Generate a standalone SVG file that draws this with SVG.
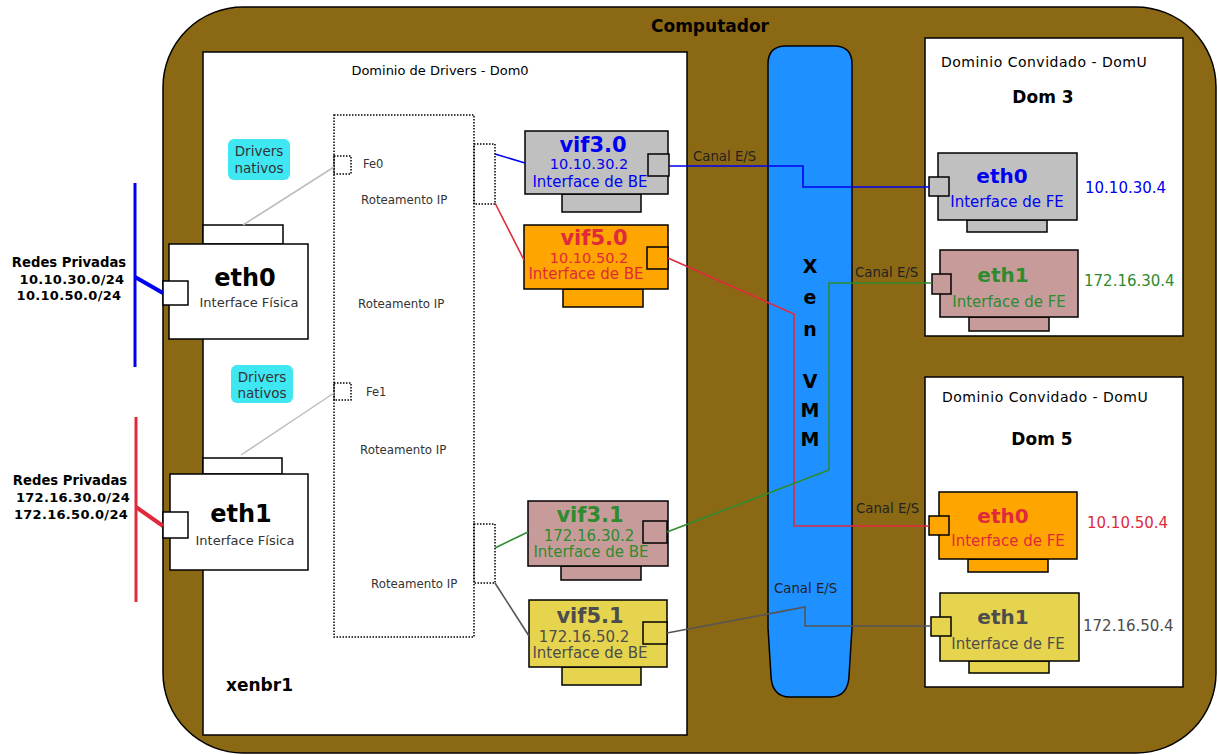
<svg xmlns="http://www.w3.org/2000/svg" width="1218" height="755" viewBox="0 0 1218 755">
<style>
text{font-family:"DejaVu Sans","Liberation Sans",sans-serif;}
.b{font-weight:bold}
.m{text-anchor:middle}
.k{stroke:#000;stroke-width:1.5}
.dot{fill:none;stroke:#000;stroke-width:1.5;stroke-dasharray:1.5 1.5}
.w{fill:#fff}
.gr{fill:#C0C0C0}
.or{fill:#FFA500}
.ro{fill:#C89B9B}
.ye{fill:#E6D44E}
.cy{fill:#3FE7F3}
.tb{fill:#0000F0}
.tr{fill:#E02A3C}
.tg{fill:#2E8B2E}
.tk{fill:#4D4D4D}
.td{fill:#333}
.c{fill:none;stroke-width:1.6}
.s11{font-size:11.8px}
.s13{font-size:13px}
.s15{font-size:15px}
.canal{font-size:13.3px;fill:#222}
.x{font-size:19px;font-weight:bold;text-anchor:middle}
</style>
<rect width="1218" height="755" fill="#fff"/>
<g id="computador">
<rect x="163" y="7" width="1053" height="746" rx="80" fill="#8B6914" stroke="#000" stroke-width="1.5"/>
<text x="710" y="32" class="b m" font-size="17">Computador</text>
</g>
<g id="dom0">
<rect x="203" y="52" width="484" height="683" class="w k"/>
<text x="440" y="75" class="m s13">Dominio de Drivers - Dom0</text>
<rect x="334" y="115" width="140" height="522" class="dot"/>
<rect x="474" y="144" width="21" height="60" class="dot"/>
<rect x="474" y="524" width="21" height="59" class="dot"/>
<text x="361" y="204" class="s11 td">Roteamento IP</text>
<text x="358" y="308" class="s11 td">Roteamento IP</text>
<text x="360" y="454" class="s11 td">Roteamento IP</text>
<text x="371" y="588" class="s11 td">Roteamento IP</text>
<text x="226" y="691" class="b" font-size="17">xenbr1</text>
</g>
<g id="fe0">
<rect x="334" y="156" width="17" height="18" class="dot"/>
<text x="363" y="168" font-size="11.5" class="td">Fe0</text>
</g>
<g id="fe1">
<rect x="334" y="383" width="17" height="17" class="dot"/>
<text x="366" y="396" font-size="11.5" class="td">Fe1</text>
</g>
<g id="drivers-nativos-0">
<rect x="228" y="139" width="62" height="41" rx="6" class="cy"/>
<text x="259" y="156" class="m td" font-size="13.5">Drivers</text>
<text x="259" y="173" class="m td" font-size="13.5">nativos</text>
</g>
<g id="drivers-nativos-1">
<rect x="231" y="365" width="62" height="38" rx="6" class="cy"/>
<text x="262" y="382" class="m td" font-size="13.5">Drivers</text>
<text x="262" y="398" class="m td" font-size="13.5">nativos</text>
</g>
<g id="redes-10">
<text x="69" y="267" class="b m" font-size="13.2">Redes Privadas</text>
<text x="72" y="284" class="b m" font-size="13" letter-spacing="0.3">10.10.30.0/24</text>
<text x="69" y="300" class="b m" font-size="13" letter-spacing="0.3">10.10.50.0/24</text>
</g>
<g id="redes-172">
<text x="70" y="485" class="b m" font-size="13.2">Redes Privadas</text>
<text x="73" y="502" class="b m" font-size="13" letter-spacing="0.3">172.16.30.0/24</text>
<text x="71" y="519" class="b m" font-size="13" letter-spacing="0.3">172.16.50.0/24</text>
</g>
<g id="eth0-fisica">
<rect x="203" y="225" width="80" height="19" class="w k"/>
<rect x="169" y="244" width="139" height="95" class="w k"/>
<rect x="163" y="281" width="25" height="24" class="w k"/>
<text x="245" y="286" class="b m" font-size="24">eth0</text>
<text x="249" y="307" class="m s13 td">Interface Física</text>
</g>
<g id="eth1-fisica">
<rect x="203" y="458" width="79" height="16" class="w k"/>
<rect x="170" y="474" width="138" height="96" class="w k"/>
<rect x="163" y="512" width="25" height="26" class="w k"/>
<text x="241" y="522" class="b m" font-size="24">eth1</text>
<text x="245" y="545" class="m s13 td">Interface Física</text>
</g>
<g id="vif3-0">
<rect x="562" y="194" width="79" height="18" class="gr k"/>
<rect x="525" y="131" width="143" height="63" class="gr k"/>
<rect x="648" y="154" width="21" height="22" class="gr k"/>
<text x="593" y="152" class="b m tb" font-size="21">vif3.0</text>
<text x="589" y="169" class="m tb" font-size="14.5">10.10.30.2</text>
<text x="590" y="187" class="m tb s15">Interface de BE</text>
</g>
<g id="vif5-0">
<rect x="563" y="289" width="80" height="18" class="or k"/>
<rect x="524" y="225" width="144" height="64" class="or k"/>
<rect x="647" y="247" width="21" height="22" class="or k"/>
<text x="594" y="245" class="b m tr" font-size="21">vif5.0</text>
<text x="589" y="263" class="m tr" font-size="14.5">10.10.50.2</text>
<text x="586" y="279" class="m tr s15">Interface de BE</text>
</g>
<g id="vif3-1">
<rect x="561" y="566" width="80" height="14" class="ro k"/>
<rect x="528" y="501" width="140" height="65" class="ro k"/>
<rect x="643" y="521" width="24" height="22" class="ro k"/>
<text x="590" y="522" class="b m tg" font-size="21">vif3.1</text>
<text x="589" y="541" class="m tg s15">172.16.30.2</text>
<text x="591" y="557" class="m tg s15">Interface de BE</text>
</g>
<g id="vif5-1">
<rect x="562" y="667" width="79" height="18" class="ye k"/>
<rect x="529" y="600" width="138" height="67" class="ye k"/>
<rect x="643" y="622" width="24" height="22" class="ye k"/>
<text x="590" y="623" class="b m tk" font-size="21">vif5.1</text>
<text x="584" y="642" class="m tk s15">172.16.50.2</text>
<text x="590" y="658" class="m tk s15">Interface de BE</text>
</g>
<g id="xen-vmm">
<path d="M786 46 H834 Q852 46 852 64 V628 Q850 660 849 676 Q848 697 830 697 H790 Q772 697 771 676 Q770 660 768 628 V64 Q768 46 786 46 Z" fill="#1E90FF" stroke="#000" stroke-width="1.5"/>
<text x="810" y="273" class="x">X</text>
<text x="810" y="304" class="x">e</text>
<text x="810" y="336" class="x">n</text>
<text x="810" y="388" class="x">V</text>
<text x="810" y="417" class="x">M</text>
<text x="810" y="446" class="x">M</text>
</g>
<g id="dom3">
<rect x="925" y="38" width="258" height="298" class="w k"/>
<text x="941" y="67" font-size="14" letter-spacing="0.5">Dominio Convidado - DomU</text>
<text x="1043" y="103" class="b m" font-size="17">Dom 3</text>
</g>
<g id="dom3-eth0">
<rect x="967" y="220" width="80" height="12" class="gr k"/>
<rect x="938" y="153" width="139" height="67" class="gr k"/>
<rect x="929" y="177" width="20" height="19" class="gr k"/>
<text x="1002" y="183" class="b m tb" font-size="20">eth0</text>
<text x="1007" y="207" class="m tb s15">Interface de FE</text>
<text x="1085" y="193" class="tb s15">10.10.30.4</text>
</g>
<g id="dom3-eth1">
<rect x="969" y="317" width="80" height="14" class="ro k"/>
<rect x="940" y="250" width="138" height="67" class="ro k"/>
<rect x="932" y="274" width="19" height="20" class="ro k"/>
<text x="1003" y="282" class="b m tg" font-size="20">eth1</text>
<text x="1009" y="307" class="m tg s15">Interface de FE</text>
<text x="1084" y="286" class="tg s15">172.16.30.4</text>
</g>
<g id="dom5">
<rect x="925" y="377" width="258" height="310" class="w k"/>
<text x="942" y="402" font-size="14" letter-spacing="0.5">Dominio Convidado - DomU</text>
<text x="1042" y="445" class="b m" font-size="17">Dom 5</text>
</g>
<g id="dom5-eth0">
<rect x="968" y="559" width="80" height="13" class="or k"/>
<rect x="939" y="492" width="138" height="67" class="or k"/>
<rect x="929" y="516" width="20" height="19" class="or k"/>
<text x="1003" y="523" class="b m tr" font-size="20">eth0</text>
<text x="1008" y="546" class="m tr s15">Interface de FE</text>
<text x="1087" y="528" class="tr s15">10.10.50.4</text>
</g>
<g id="dom5-eth1">
<rect x="969" y="661" width="80" height="12" class="ye k"/>
<rect x="940" y="593" width="139" height="68" class="ye k"/>
<rect x="931" y="617" width="20" height="19" class="ye k"/>
<text x="1003" y="624" class="b m tk" font-size="20">eth1</text>
<text x="1008" y="649" class="m tk s15">Interface de FE</text>
<text x="1083" y="631" class="tk s15">172.16.50.4</text>
</g>
<g id="connectors">
<line x1="135" y1="183" x2="135" y2="367" stroke="#0000F0" stroke-width="3"/>
<line x1="135" y1="277" x2="163" y2="293" stroke="#0000F0" stroke-width="4"/>
<line x1="136" y1="417" x2="136" y2="602" stroke="#E02A3C" stroke-width="3"/>
<line x1="136" y1="507" x2="163" y2="526" stroke="#E02A3C" stroke-width="4"/>
<line x1="243" y1="225" x2="334" y2="167" stroke="#BDBDBD" stroke-width="1.5"/>
<line x1="241" y1="455" x2="334" y2="393" stroke="#BDBDBD" stroke-width="1.5"/>
<path d="M495 154 L525 163" class="c" stroke="#0000F0"/>
<path d="M495 203 L524 260" class="c" stroke="#E02A3C"/>
<path d="M495 548 L528 532" class="c" stroke="#2E8B2E"/>
<path d="M495 583 L529 636" class="c" stroke="#555"/>
<path d="M669 166 H803 V187 H929" class="c" stroke="#0000F0"/>
<path d="M668 258 L794 314 V526 H929" class="c" stroke="#E02A3C"/>
<path d="M667 532 L829 470 V283 H932" class="c" stroke="#2E8B2E"/>
<path d="M667 633 L805 607 V626 H931" class="c" stroke="#555"/>
<text x="693" y="161" class="canal">Canal E/S</text>
<text x="855" y="277" class="canal">Canal E/S</text>
<text x="856" y="513" class="canal">Canal E/S</text>
<text x="774" y="593" class="canal">Canal E/S</text>
</g>
</svg>
